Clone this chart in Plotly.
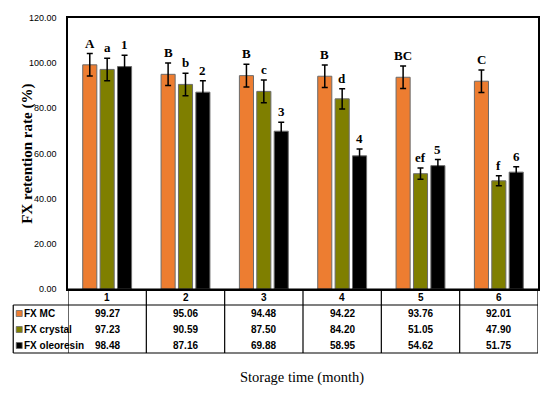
import plotly.graph_objects as go

months = [1, 2, 3, 4, 5, 6]
series_names = ["FX MC", "FX crystal", "FX oleoresin"]
fx_mc = [99.27, 95.06, 94.48, 94.22, 93.76, 92.01]
fx_crystal = [97.23, 90.59, 87.50, 84.20, 51.05, 47.90]
fx_oleoresin = [98.48, 87.16, 69.88, 58.95, 54.62, 51.75]
err_mc = [5.0, 5.0, 5.0, 5.0, 5.0, 5.0]
err_crystal = [5.0, 5.0, 5.0, 4.5, 2.5, 2.2]
err_oleoresin = [5.0, 5.0, 4.0, 3.0, 2.7, 2.4]
letters_mc = ["A", "B", "B", "B", "BC", "C"]
letters_crystal = ["a", "b", "c", "d", "ef", "f"]
letters_oleoresin = ["1", "2", "3", "4", "5", "6"]
y_ticks = [0, 20, 40, 60, 80, 100, 120]

colors = ["#ED7D31", "#7F7F00", "#000000"]
values = [fx_mc, fx_crystal, fx_oleoresin]
errors = [err_mc, err_crystal, err_oleoresin]
letters = [letters_mc, letters_crystal, letters_oleoresin]

W, H = 550, 394
ml, mr, mt, mb = 68, 10, 18, 105
pw, ph = W - ml - mr, H - mt - mb

def py(px):  # pixel y (from top) -> paper y
    return 1 - (px - mt) / ph

def pxp(px):  # pixel x -> paper x
    return (px - ml) / pw

fig = go.Figure()
slot = 0.222
for i in range(3):
    fig.add_trace(go.Bar(
        x=months, y=values[i], name=series_names[i],
        marker=dict(color=colors[i], line=dict(color="#6b6b6b", width=1)),
        error_y=dict(type="data", array=errors[i], color="black", thickness=1.5, width=3),
        showlegend=False,
    ))

annotations = []
shapes = []
serif = "Liberation Serif, Times New Roman, serif"
sans = "Liberation Sans Narrow, Liberation Sans, Arial, sans-serif"

for i in range(3):
    for j, m in enumerate(months):
        annotations.append(dict(
            x=m + (i - 1) * slot, y=values[i][j] + errors[i][j], xref="x", yref="y",
            text="<b>%s</b>" % letters[i][j], showarrow=False, yanchor="bottom", yshift=1,
            xanchor="center", font=dict(family=serif, size=13, color="black")))

# table geometry (pixels)
row_top, row_hdr, row_bot = 289, 305, 353
left_px = 13
row_centers = [313.5, 329.5, 345.5]

# header numbers
for m in months:
    annotations.append(dict(x=m, y=py((row_top + row_hdr) / 2), xref="x", yref="paper",
                            text="<b>%d</b>" % m, showarrow=False, xanchor="center", yanchor="middle",
                            font=dict(family=sans, size=10, color="black")))
# values
for i in range(3):
    for j, m in enumerate(months):
        annotations.append(dict(x=m, y=py(row_centers[i]), xref="x", yref="paper",
                                text="<b>%.2f</b>" % values[i][j], showarrow=False,
                                xanchor="center", yanchor="middle",
                                font=dict(family=sans, size=10, color="black")))
    annotations.append(dict(x=pxp(22), y=py(row_centers[i]), xref="paper", yref="paper",
                            text="<b>%s</b>" % series_names[i], showarrow=False,
                            xanchor="left", yanchor="middle",
                            font=dict(family=sans, size=10, color="black")))
    shapes.append(dict(type="rect", xref="paper", yref="paper",
                       x0=pxp(16), x1=pxp(22), y0=py(row_centers[i] - 3), y1=py(row_centers[i] + 3),
                       fillcolor=colors[i], line=dict(color="#6b6b6b", width=0.8)))

line = dict(color="black", width=1.2)
# horizontal lines
shapes.append(dict(type="line", xref="paper", yref="paper", x0=0, x1=1, y0=py(row_top), y1=py(row_top), line=line))
for yy in [row_hdr, row_bot]:
    shapes.append(dict(type="line", xref="paper", yref="paper", x0=pxp(left_px), x1=1, y0=py(yy), y1=py(yy), line=line))
# vertical lines
shapes.append(dict(type="line", xref="paper", yref="paper", x0=pxp(left_px), x1=pxp(left_px),
                   y0=py(row_hdr), y1=py(row_bot), line=line))
for b in [0.5, 1.5, 2.5, 3.5, 4.5, 5.5, 6.5]:
    shapes.append(dict(type="line", xref="x", yref="paper", x0=b, x1=b,
                       y0=py(row_top), y1=py(row_bot), line=line))

# axis titles
annotations.append(dict(x=pxp(303), y=py(377), xref="paper", yref="paper",
                        text="Storage time (month)", showarrow=False,
                        xanchor="center", yanchor="middle",
                        font=dict(family=serif, size=14.5, color="black")))
annotations.append(dict(x=pxp(27), y=0.5, xref="paper", yref="paper",
                        text="<b>FX retention rate (%)</b>", showarrow=False, textangle=-90,
                        xanchor="center", yanchor="middle",
                        font=dict(family=serif, size=15, color="black")))

fig.update_layout(
    width=W, height=H, margin=dict(l=ml, r=mr, t=mt, b=mb),
    barmode="group", bargap=0.334, bargroupgap=0.19,
    plot_bgcolor="white", paper_bgcolor="white",
    xaxis=dict(range=[0.5, 6.5], showticklabels=False, showgrid=False, zeroline=False,
               showline=True, linecolor="black", linewidth=1.5, mirror=True, ticks=""),
    yaxis=dict(range=[0, 120], tickvals=y_ticks, tickformat=".2f", showgrid=False, zeroline=False,
               showline=True, linecolor="black", linewidth=1.5, mirror=True, ticks="",
               ticklabelstandoff=8,
               tickfont=dict(family=sans, size=9, color="black")),
    annotations=annotations, shapes=shapes,
)

fig.write_html("out.html", config={"displayModeBar": False},
               post_script="document.body.style.margin='0';")
